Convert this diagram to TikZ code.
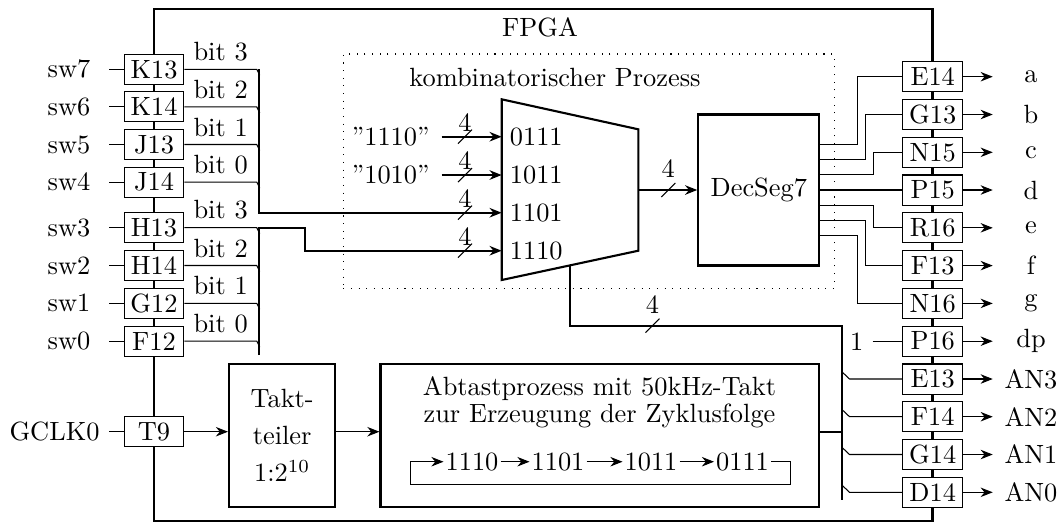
\documentclass[tikz,border=0pt]{standalone}
\usetikzlibrary{arrows.meta,calc}
\begin{document}
\begin{tikzpicture}[x=0.379pt,y=-0.379pt,
  pinbox/.style={draw,thin,fill=white,minimum width=22.7pt,minimum height=11.4pt,inner sep=0pt},
  blockbox/.style={draw,thick,inner sep=0pt},
  arrowhd/.style={-{Stealth[length=4.6pt,width=3.6pt]}},
  swlbl/.style={anchor=east,inner xsep=6.9pt,inner ysep=0pt},
  outlbl/.style={minimum width=28.6pt,inner sep=0pt},
  bitlbl/.style={above=2.9pt,inner sep=0pt},
  portlbl/.style={anchor=west,inner xsep=2.9pt,inner ysep=0pt},
  constlbl/.style={anchor=east,inner xsep=4.4pt,inner ysep=0pt},
  seqnode/.style={inner sep=0.6pt},
  pics/bsl/.style n args={2}{code={\draw[thin] (-7,7) -- (7,-7); \node[inner sep=0pt] (-l) at (0,-#2) {#1};}}
]
\useasboundingbox (0,0) rectangle (1059,523);

% FPGA frame
\node[blockbox,minimum width=295.05pt,minimum height=194.05pt] (fpga) at (543.25,265) {};
\node (fpgat) at (540,27) {FPGA};

% combinational process frame
\node[draw,dash pattern=on 0.4pt off 2.5pt,minimum width=186pt,minimum height=88.8pt,inner sep=0pt] (comb) at (588.65,171.15) {};
\node (combt) at (555,77) {kombinatorischer Prozess};

% left pins
\foreach \n/\y/\s/\b in {K13/69.3/sw7/3,K14/106.9/sw6/2,J13/144.5/sw5/1,J14/182.1/sw4/0,H13/227.7/sw3/3,H14/265.5/sw2/2,G12/303.3/sw1/1,F12/341.1/sw0/0}{
  \node[pinbox] (\n) at (154,\y) {\n};
  \node[swlbl] (\s) at (109,\y) {\s};
  \draw[thin] (\s.east) -- (\n.west);
  \draw[thin] (\n.east) -- ++(72.3,0) node[bitlbl,midway] (bit\n) {bit \b} -- ++(3,6);
}

% multiplexer
\coordinate (mTL) at (501.7,99.3);
\coordinate (mTR) at (638.3,129.3);
\coordinate (mBR) at (638.3,250.7);
\coordinate (mBL) at (501.7,280);
\draw[thick] (mTL) -- (mTR) -- (mBR) -- (mBL) -- cycle;
\coordinate (mi1) at (501.7,136.7);
\coordinate (mi2) at (501.7,175);
\coordinate (mi3) at (501.7,212.7);
\coordinate (mi4) at (501.7,250.7);
\coordinate (mo) at (638.3,190);
\coordinate (mb) at (570,265.3);
\node[portlbl] (p1) at (mi1) {0111};
\node[portlbl] (p2) at (mi2) {1011};
\node[portlbl] (p3) at (mi3) {1101};
\node[portlbl] (p4) at (mi4) {1110};

% constants
\node[constlbl] (k1) at (441.7,136.7) {”1110”};
\node[constlbl] (k2) at (441.7,175) {”1010”};
\draw[thick,arrowhd] (k1) -- (mi1);
\draw[thick,arrowhd] (k2) -- (mi2);

% switch buses
\coordinate (busAtop) at (259.3,69.3);
\coordinate (busBbot) at (259.3,355);
\coordinate (busBk) at (305,227.7);
\draw[thick,arrowhd] (busAtop) |- (mi3);
\draw[thick,arrowhd] (busBbot) |- (busBk) |- (mi4);

% bus slashes
\pic (s1) at (465,136.7) {bsl={4}{14}};
\pic (s2) at (465,175) {bsl={4}{14}};
\pic (s3) at (465,212.7) {bsl={4}{14}};
\pic (s4) at (465,250.7) {bsl={4}{14}};
\pic (s5) at (668.3,190) {bsl={4}{21.5}};
\pic (s6) at (652.5,325.7) {bsl={4}{21}};

% decoder
\node[blockbox,minimum width=45.86pt,minimum height=57.2pt] (dec) at (758.8,190) {DecSeg7};
\draw[thick,arrowhd] (mo) -- (dec);

% right pins
\foreach \n/\y/\o in {E14/76.7/a,G13/114.5/b,N15/152.3/c,P15/190/d,R16/227.8/e,F13/265.6/f,N16/303.4/g,P16/341.2/dp,E13/379/AN3,F14/416.7/AN2,G14/454.5/AN1,D14/492.3/AN0}{
  \node[pinbox] (\n) at (932.7,\y) {\n};
  \node[outlbl] (o\o) at (1031,\y) {\o};
  \draw[thin,arrowhd] (\n) -- (o\o);
}

% decoder outputs
\draw[thin] ($(dec.east)+(0,-45.6)$) -- ++(37.4,0) |- (E14);
\draw[thin] ($(dec.east)+(0,-30.4)$) -- ++(45,0) |- (G13);
\draw[thin] ($(dec.east)+(0,-15.2)$) -- ++(53,0) |- (N15);
\draw[thin] (dec.east) -- (P15);
\draw[thin] ($(dec.east)+(0,15.2)$) -- ++(53,0) |- (R16);
\draw[thin] ($(dec.east)+(0,30.4)$) -- ++(45,0) |- (F13);
\draw[thin] ($(dec.east)+(0,45.6)$) -- ++(37.4,0) |- (N16);

\node (one) at (856.7,341.2) {1};
\draw[thin] (one) -- (P16);

% anode bus
\coordinate (busCk) at (842.3,325.7);
\coordinate (busCbot) at (842.3,500);
\draw[thick] (mb) |- (busCk) -- (busCbot);
\foreach \n in {E13,F14,G14,D14}
  \draw[thin] (\n.west) -- ++(-52.7,0) -- ++(-7.7,-7.3);

% clock path
\node[pinbox] (T9) at (154,431.7) {T9};
\node[anchor=east,inner sep=3.4pt] (gclk) at (109,431.7) {GCLK0};
\draw[thin] (gclk) -- (T9);
\node[blockbox,minimum width=40.3pt,minimum height=54.2pt,align=center] (tt) at (282.2,435.5) {Takt-\\[2pt]teiler\\[2pt]1:2$^{10}$};
\node[blockbox,minimum width=166.3pt,minimum height=54.2pt] (abt) at (599.9,435.5) {};
\node[align=center,inner sep=0pt] (abtt) at (599.5,402.3) {Abtastprozess mit 50kHz-Takt\\[-1.5pt]zur Erzeugung der Zyklusfolge};
\draw[thin,arrowhd] (T9) -- (tt.west|-T9);
\draw[thin,arrowhd] (tt.east|-T9) -- (abt.west|-T9);
\coordinate (busCj) at (842.3,431.7);
\draw[thick] (abt.east|-T9) -- (busCj);

% cycle sequence
\node[seqnode] (q1) at (472,461.7) {1110};
\node[seqnode] (q2) at (558,461.7) {1101};
\node[seqnode] (q3) at (651,461.7) {1011};
\node[seqnode] (q4) at (742.5,461.7) {0111};
\draw[thin,arrowhd] (q1) -- (q2);
\draw[thin,arrowhd] (q2) -- (q3);
\draw[thin,arrowhd] (q3) -- (q4);
\coordinate (loopbl) at (410.7,484.3);
\draw[thin,arrowhd] (q4.east) -- ++(19.5,0) |- (loopbl) |- (q1.west);
\end{tikzpicture}
\end{document}
